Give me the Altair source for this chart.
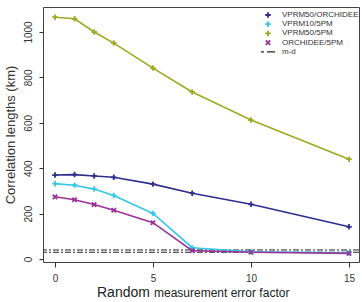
import altair as alt
import pandas as pd

factor = [0, 1, 2, 3, 5, 7, 10, 15]
vprm50_orchidee = [370, 372, 366, 360, 330, 290, 241, 142]
vprm10_5pm = [332, 325, 308, 280, 201, 50, 32, 28]
vprm50_5pm = [1065, 1058, 1000, 951, 841, 736, 612, 440]
orchidee_5pm = [274, 261, 240, 215, 160, 37, 30, 25]
md_levels = [30, 40]

series_names = ["VPRM50/ORCHIDEE", "VPRM10/5PM", "VPRM50/5PM", "ORCHIDEE/5PM"]
series_vals = [vprm50_orchidee, vprm10_5pm, vprm50_5pm, orchidee_5pm]
colors = ["#2e2e8e", "#33c8e8", "#9aab22", "#993399"]
PLUS = "M-1,0L1,0M0,-1L0,1"
CROSS = "M-0.8,-0.8L0.8,0.8M-0.8,0.8L0.8,-0.8"
shapes = [PLUS, PLUS, PLUS, CROSS]

rows = []
for name, vals in zip(series_names, series_vals):
    for f, v in zip(factor, vals):
        rows.append({"factor": f, "value": v, "series": name})
df = pd.DataFrame(rows)
md_df = pd.DataFrame({"level": md_levels})

W, H = 316, 255
FONT = "Liberation Sans"

xs = alt.Scale(domain=[-0.61, 15.51], nice=False, zero=False)
ys = alt.Scale(domain=[-13, 1110], nice=False, zero=False)
cs = alt.Scale(domain=series_names, range=colors)
ss = alt.Scale(domain=series_names, range=shapes)

xaxis = alt.Axis(values=[0, 5, 10, 15], grid=False, domain=False, tickSize=5,
                 tickColor="#333", labelFont=FONT, labelFontSize=10, labelColor="#333",
                 labelPadding=6, title=None, labelFlush=False)
yaxis = alt.Axis(values=[0, 200, 400, 600, 800, 1000], format="d", grid=False, domain=False, tickSize=4,
                 tickColor="#333", labelFont=FONT, labelFontSize=10, labelColor="#333",
                 labelAngle=270, labelAlign="center", labelBaseline="bottom", labelPadding=6,
                 title="Correlation lengths (km)", titleFont=FONT, titleFontSize=13,
                 titleFontWeight="normal", titleColor="#333", titlePadding=6, labelFlush=False)

base = alt.Chart(df)
lines = base.mark_line(strokeWidth=1.6, clip=True).encode(
    x=alt.X("factor:Q", scale=xs, axis=xaxis),
    y=alt.Y("value:Q", scale=ys, axis=yaxis),
    color=alt.Color("series:N", scale=cs, legend=None),
    detail="series:N",
)
pts = base.mark_point(filled=False, size=30, strokeWidth=1.8, opacity=1, clip=True).encode(
    x=alt.X("factor:Q", scale=xs),
    y=alt.Y("value:Q", scale=ys),
    color=alt.Color("series:N", scale=cs, legend=None),
    shape=alt.Shape("series:N", scale=ss, legend=None),
)
md_rules = alt.Chart(md_df).mark_rule(color="#222", strokeWidth=1, strokeDash=[6, 2, 2, 2]).encode(
    y=alt.Y("level:Q", scale=ys)
)

# manual legend
leg_layers = []
lx_sym, lx_txt, ly0, dy = 225, 239, 8, 9.2
for i, (name, col, shp) in enumerate(zip(series_names, colors, shapes)):
    ldf = pd.DataFrame({"label": [name]})
    leg_layers.append(alt.Chart(ldf).mark_point(shape=shp, filled=False, size=30, strokeWidth=1.8,
                                                color=col, opacity=1).encode(
        x=alt.value(lx_sym), y=alt.value(ly0 + i * dy)))
    leg_layers.append(alt.Chart(ldf).mark_text(align="left", baseline="middle", font=FONT,
                                               fontSize=8, color="#333").encode(
        x=alt.value(lx_txt), y=alt.value(ly0 + i * dy), text="label:N"))
mdl = pd.DataFrame({"label": ["m-d"]})
leg_layers.append(alt.Chart(mdl).mark_rule(color="#222", strokeWidth=1.2, strokeDash=[3, 3, 8, 3]).encode(
    x=alt.value(lx_sym - 7), x2=alt.value(lx_sym + 8), y=alt.value(ly0 + 4 * dy)))
leg_layers.append(alt.Chart(mdl).mark_text(align="left", baseline="middle", font=FONT,
                                           fontSize=8, color="#333").encode(
    x=alt.value(lx_txt), y=alt.value(ly0 + 4 * dy), text="label:N"))

# x title with larger first word
t1 = alt.Chart(pd.DataFrame({"t": ["Random"]})).mark_text(
    align="left", baseline="alphabetic", font=FONT, fontSize=14, color="#222").encode(
    x=alt.value(54), y=alt.value(290), text="t:N")
t2 = alt.Chart(pd.DataFrame({"t": ["measurement error factor"]})).mark_text(
    align="left", baseline="alphabetic", font=FONT, fontSize=12, color="#222").encode(
    x=alt.value(111), y=alt.value(290), text="t:N")

chart = alt.layer(md_rules, lines, pts, *leg_layers, t1, t2).properties(
    width=W, height=H,
    autosize=alt.AutoSizeParams(type="none"),
    padding={"left": 43, "top": 7, "right": 3, "bottom": 40},
    background="white",
).configure_view(stroke="#444", strokeWidth=1)

chart.save("out.html", embed_options={"renderer": "svg", "actions": False})
